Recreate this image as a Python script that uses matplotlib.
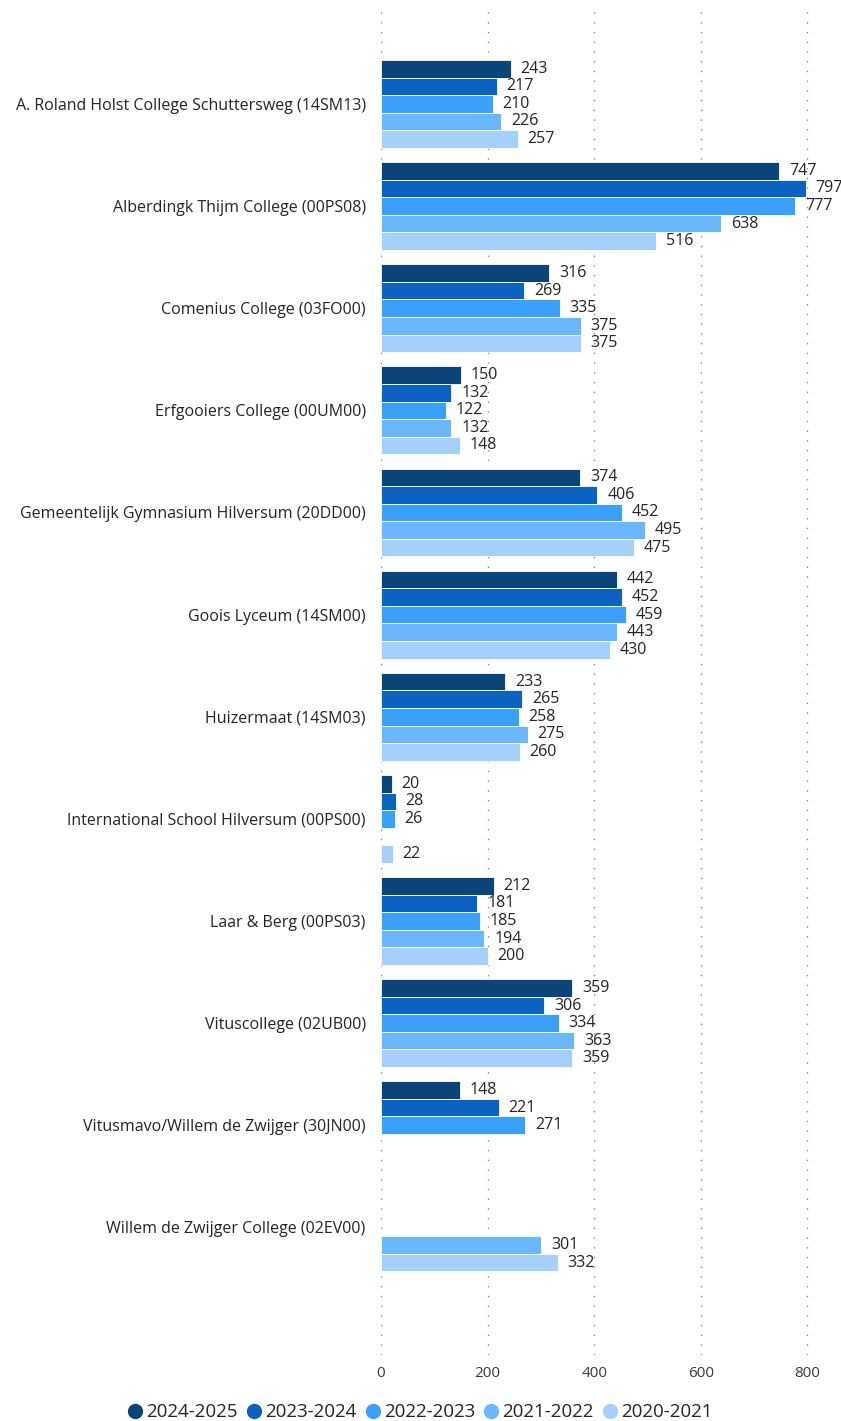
import numpy as np
import matplotlib.pyplot as plt

schools = [
    "A. Roland Holst College Schuttersweg (14SM13)",
    "Alberdingk Thijm College (00PS08)",
    "Comenius College (03FO00)",
    "Erfgooiers College (00UM00)",
    "Gemeentelijk Gymnasium Hilversum (20DD00)",
    "Goois Lyceum (14SM00)",
    "Huizermaat (14SM03)",
    "International School Hilversum (00PS00)",
    "Laar & Berg (00PS03)",
    "Vituscollege (02UB00)",
    "Vitusmavo/Willem de Zwijger (30JN00)",
    "Willem de Zwijger College (02EV00)",
]
years = ["2024-2025", "2023-2024", "2022-2023", "2021-2022", "2020-2021"]
nan = np.nan
y2024 = [243, 747, 316, 150, 374, 442, 233, 20, 212, 359, 148, nan]
y2023 = [217, 797, 269, 132, 406, 452, 265, 28, 181, 306, 221, nan]
y2022 = [210, 777, 335, 122, 452, 459, 258, 26, 185, 334, 271, nan]
y2021 = [226, 638, 375, 132, 495, 443, 275, nan, 194, 363, nan, 301]
y2020 = [257, 516, 375, 148, 475, 430, 260, 22, 200, 359, nan, 332]
series = [y2024, y2023, y2022, y2021, y2020]
colors = ["#0a4478", "#0b62c0", "#3aa0fa", "#6ab8fb", "#a6d0fc"]

plt.rcParams["font.family"] = ["Open Sans", "DejaVu Sans"]
text_color = "#252423"

fig = plt.figure(figsize=(8.41, 14.21), dpi=100)
ax = fig.add_axes([0.453, 0.0464, 0.542, 0.9466])

h = 0.172
pos = np.arange(len(schools))
for j, (vals, c, yr) in enumerate(zip(series, colors, years)):
    vals = np.array(vals, dtype=float)
    ypos = pos + (j - 2) * h
    mask = ~np.isnan(vals)
    bars = ax.barh(ypos[mask], vals[mask], height=h, color=c, edgecolor="white",
                   linewidth=0.6, label=yr, zorder=3)
    ax.bar_label(bars, labels=[f"{v:.0f}" for v in vals[mask]], padding=7,
                 fontsize=11.5, color=text_color, clip_on=False)

ax.set_yticks(pos)
ax.set_yticklabels(schools, fontsize=11.5, color=text_color)
ax.set_ylim(12.25, -0.92)
ax.set_xlim(0, 855)
ax.set_xticks([0, 200, 400, 600, 800])
ax.tick_params(axis="x", labelsize=11, colors="#3b3a39", length=0, pad=8)
ax.tick_params(axis="y", length=0, pad=11)
ax.grid(axis="x", color="#8a8886", linestyle=(0, (1, 6)), linewidth=1, zorder=0)
for s in ax.spines.values():
    s.set_visible(False)

handles = [plt.Line2D([], [], marker="o", linestyle="", markersize=10,
                      markerfacecolor=c, markeredgecolor=c) for c in colors]
fig.legend(handles, years, loc="lower center", bbox_to_anchor=(0.5, -0.012), ncol=5,
           frameon=False, fontsize=13.5, handlelength=0.7, handletextpad=0.25,
           columnspacing=0.5, labelcolor=text_color)

fig.savefig("out.png", dpi=100)
